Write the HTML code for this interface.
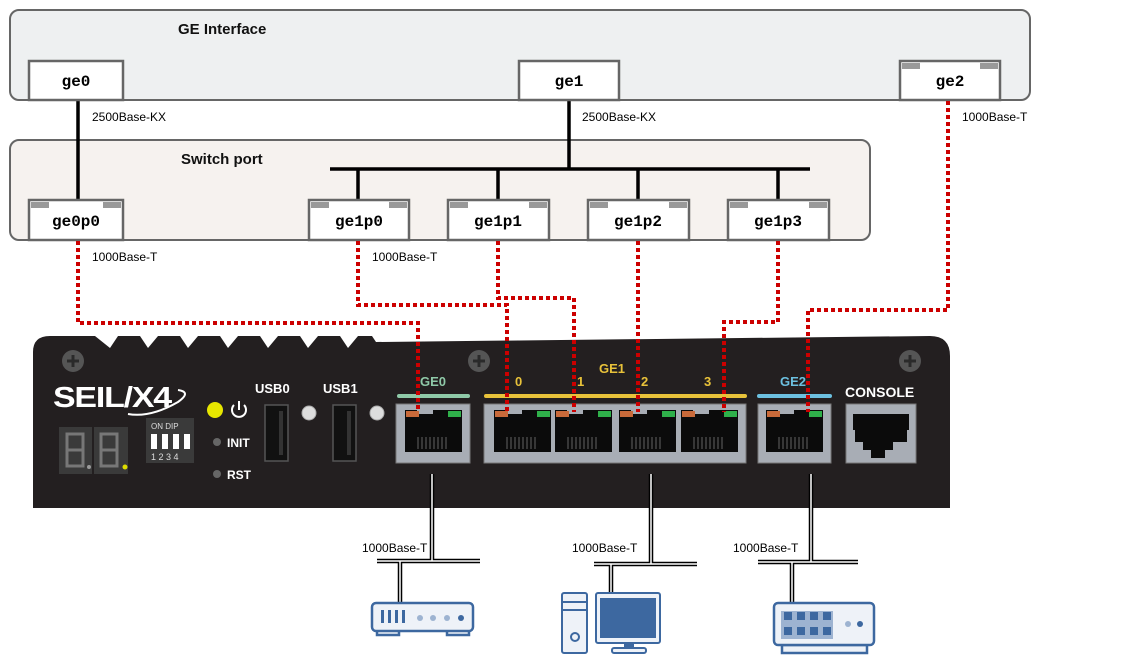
<!DOCTYPE html>
<html><head><meta charset="utf-8"><style>
html,body{margin:0;padding:0;background:#fff}
svg{display:block}
.mono{font-family:"Liberation Mono",monospace;font-weight:bold;font-size:16px}
.s{font-family:"Liberation Sans",sans-serif}
</style></head><body>
<svg width="1128" height="670" viewBox="0 0 1128 670" xmlns="http://www.w3.org/2000/svg">
<rect x="10" y="10" width="1020" height="90" rx="9" fill="#eef0f1" stroke="#666" stroke-width="2"/>
<text x="178" y="34" class="s" font-size="15" font-weight="bold" fill="#111">GE Interface</text>
<rect x="10" y="140" width="860" height="100" rx="9" fill="#f6f2ef" stroke="#666" stroke-width="2"/>
<text x="181" y="164" class="s" font-size="15" font-weight="bold" fill="#111">Switch port</text>

<g stroke="#000" stroke-width="3.5" fill="none">
<line x1="78" y1="100" x2="78" y2="200"/>
<line x1="569" y1="100" x2="569" y2="169"/>
<line x1="330" y1="169" x2="810" y2="169"/>
<line x1="358" y1="169" x2="358" y2="200"/>
<line x1="498" y1="169" x2="498" y2="200"/>
<line x1="638" y1="169" x2="638" y2="200"/>
<line x1="778" y1="169" x2="778" y2="200"/>
</g>

<g stroke="#666" stroke-width="2.5" fill="#fff">
<rect x="29" y="61" width="94" height="39"/>
<rect x="519" y="61" width="100" height="39"/>
<rect x="900" y="61" width="100" height="39"/>
<rect x="29" y="200" width="94" height="40"/>
<rect x="309" y="200" width="100" height="40"/>
<rect x="448" y="200" width="101" height="40"/>
<rect x="588" y="200" width="101" height="40"/>
<rect x="728" y="200" width="101" height="40"/>
</g>
<g fill="#999">
<rect x="902" y="63" width="18" height="6"/><rect x="980" y="63" width="18" height="6"/>
<rect x="31" y="202" width="18" height="6"/><rect x="103" y="202" width="18" height="6"/>
<rect x="311" y="202" width="18" height="6"/><rect x="389" y="202" width="18" height="6"/>
<rect x="450" y="202" width="18" height="6"/><rect x="529" y="202" width="18" height="6"/>
<rect x="590" y="202" width="18" height="6"/><rect x="669" y="202" width="18" height="6"/>
<rect x="730" y="202" width="18" height="6"/><rect x="809" y="202" width="18" height="6"/>
</g>
<g class="mono" fill="#000" text-anchor="middle">
<text x="76" y="86">ge0</text>
<text x="569" y="86">ge1</text>
<text x="950" y="86">ge2</text>
<text x="76" y="226">ge0p0</text>
<text x="359" y="226">ge1p0</text>
<text x="498" y="226">ge1p1</text>
<text x="638" y="226">ge1p2</text>
<text x="778" y="226">ge1p3</text>
</g>
<g class="s" font-size="12" fill="#000">
<text x="92" y="121">2500Base-KX</text>
<text x="582" y="121">2500Base-KX</text>
<text x="962" y="121">1000Base-T</text>
<text x="92" y="261">1000Base-T</text>
<text x="372" y="261">1000Base-T</text>
</g>

<path d="M33 352 Q33 336 50 336 L95 336 L110 348 L118 336 L140 336 L148 348 L158 336 L180 336 L188 348 L198 336 L220 336 L228 348 L238 336 L260 336 L268 348 L278 336 L300 336 L308 348 L318 336 L340 336 L348 348 L358 336 L372 336 L376 342 L930 336 Q950 336 950 356 L950 508 L33 508 Z" fill="#231f20"/>
<g fill="#555"><circle cx="73" cy="361" r="11"/><circle cx="479" cy="361" r="11"/><circle cx="910" cy="361" r="11"/></g>
<g stroke="#2a2a2a" stroke-width="3"><path d="M73 355v12M67 361h12M479 355v12M473 361h12M910 355v12M904 361h12"/></g>

<text x="53" y="407" class="s" font-size="29" font-weight="bold" fill="#fff" letter-spacing="-1" textLength="118" lengthAdjust="spacingAndGlyphs">SEIL/X4</text>
<path d="M128 414 Q150 418 178 402 Q192 392 178 390" fill="none" stroke="#fff" stroke-width="2"/>
<rect x="59" y="427" width="69" height="47" fill="#3a3a3a"/>
<line x1="93" y1="427" x2="93" y2="474" stroke="#231f20" stroke-width="2"/>
<g fill="none" stroke="#777" stroke-width="3">
<rect x="67" y="434" width="16" height="32"/><line x1="67" y1="450" x2="83" y2="450"/>
<rect x="101" y="434" width="16" height="32"/><line x1="101" y1="450" x2="117" y2="450"/>
</g>
<circle cx="89" cy="467" r="2" fill="#999"/><circle cx="125" cy="467" r="2.5" fill="#dd0"/>
<rect x="146" y="418" width="48" height="45" fill="#3a3a3a"/>
<text x="151" y="429" class="s" font-size="8" fill="#ddd">ON  DIP</text>
<g fill="#fff"><rect x="151" y="434" width="6" height="15"/><rect x="162" y="434" width="6" height="15"/><rect x="173" y="434" width="6" height="15"/><rect x="184" y="434" width="6" height="15"/></g>
<text x="151" y="460" class="s" font-size="9" fill="#ddd">1 2 3 4</text>
<circle cx="215" cy="410" r="8" fill="#e6e600"/>
<path d="M234 405 A7 7 0 1 0 244 405" fill="none" stroke="#fff" stroke-width="2"/><line x1="239" y1="401" x2="239" y2="410" stroke="#fff" stroke-width="2"/>
<circle cx="217" cy="442" r="4" fill="#666"/><text x="227" y="447" class="s" font-size="12" font-weight="bold" fill="#fff">INIT</text>
<circle cx="217" cy="474" r="4" fill="#666"/><text x="227" y="479" class="s" font-size="12" font-weight="bold" fill="#fff">RST</text>
<text x="255" y="393" class="s" font-size="13" font-weight="bold" fill="#fff">USB0</text>
<text x="323" y="393" class="s" font-size="13" font-weight="bold" fill="#fff">USB1</text>
<rect x="265" y="405" width="23" height="56" fill="#111" stroke="#555" stroke-width="1.5"/><rect x="279" y="411" width="4" height="44" fill="#333"/>
<rect x="333" y="405" width="23" height="56" fill="#111" stroke="#555" stroke-width="1.5"/><rect x="347" y="411" width="4" height="44" fill="#333"/>
<circle cx="309" cy="413" r="7" fill="#ddd" stroke="#aaa"/><circle cx="377" cy="413" r="7" fill="#ddd" stroke="#aaa"/>

<g class="s" font-size="13" font-weight="bold">
<text x="420" y="386" fill="#8fc9a8">GE0</text>
<text x="599" y="373" fill="#e8c23a">GE1</text>
<text x="515" y="386" fill="#e8c23a">0</text>
<text x="577" y="386" fill="#e8c23a">1</text>
<text x="641" y="386" fill="#e8c23a">2</text>
<text x="704" y="386" fill="#e8c23a">3</text>
<text x="780" y="386" fill="#6cc0e0">GE2</text>
<text x="845" y="397" fill="#fff" font-size="14">CONSOLE</text>
</g>
<g stroke-linecap="round" stroke-width="4">
<line x1="399" y1="396" x2="468" y2="396" stroke="#8fc9a8"/>
<line x1="486" y1="396" x2="745" y2="396" stroke="#e8c23a"/>
<line x1="759" y1="396" x2="830" y2="396" stroke="#6cc0e0"/>
</g>
<g fill="#a8adb5" stroke="#777" stroke-width="1">
<rect x="396" y="404" width="74" height="59"/>
<rect x="484" y="404" width="262" height="59"/>
<rect x="758" y="404" width="73" height="59"/>
<rect x="846" y="404" width="70" height="59"/>
</g>
<g fill="#0b0b0b">
<rect x="405" y="410" width="57" height="42"/>
<rect x="494" y="410" width="57" height="42"/>
<rect x="555" y="410" width="57" height="42"/>
<rect x="619" y="410" width="57" height="42"/>
<rect x="681" y="410" width="57" height="42"/>
<rect x="766" y="410" width="57" height="42"/>
</g>
<g fill="#a8adb5">
<rect x="417" y="410" width="16" height="4"/><rect x="506" y="410" width="16" height="4"/><rect x="567" y="410" width="16" height="4"/><rect x="631" y="410" width="16" height="4"/><rect x="693" y="410" width="16" height="4"/><rect x="778" y="410" width="16" height="4"/>
</g>
<g fill="#c96a3a">
<rect x="406" y="411" width="13" height="6"/><rect x="495" y="411" width="13" height="6"/><rect x="556" y="411" width="13" height="6"/><rect x="620" y="411" width="13" height="6"/><rect x="682" y="411" width="13" height="6"/><rect x="767" y="411" width="13" height="6"/>
</g>
<g fill="#2fb04a">
<rect x="448" y="411" width="13" height="6"/><rect x="537" y="411" width="13" height="6"/><rect x="598" y="411" width="13" height="6"/><rect x="662" y="411" width="13" height="6"/><rect x="724" y="411" width="13" height="6"/><rect x="809" y="411" width="13" height="6"/>
</g>
<g stroke="#555" stroke-width="1.2">
<path d="M418 437v12M422 437v12M426 437v12M430 437v12M434 437v12M438 437v12M442 437v12M446 437v12"/>
<path d="M507 437v12M511 437v12M515 437v12M519 437v12M523 437v12M527 437v12M531 437v12M535 437v12"/>
<path d="M568 437v12M572 437v12M576 437v12M580 437v12M584 437v12M588 437v12M592 437v12M596 437v12"/>
<path d="M632 437v12M636 437v12M640 437v12M644 437v12M648 437v12M652 437v12M656 437v12M660 437v12"/>
<path d="M694 437v12M698 437v12M702 437v12M706 437v12M710 437v12M714 437v12M718 437v12M722 437v12"/>
<path d="M779 437v12M783 437v12M787 437v12M791 437v12M795 437v12M799 437v12M803 437v12M807 437v12"/>
</g>
<path d="M853 414h56v16h-2v12h-14v8h-8v8h-14v-8h-8v-8h-8v-12h-2z" fill="#0b0b0b"/>

<g stroke="#cc0000" stroke-width="4" fill="none" stroke-dasharray="4 3">
<path d="M78 241V323H418V412"/>
<path d="M358 241V305H507V412"/>
<path d="M498 241V298H574V412"/>
<path d="M638 241V412"/>
<path d="M778 241V322H724V412"/>
<path d="M948 101V310H808V412"/>
</g>

<g fill="none" stroke="#000" stroke-width="4.5">
<path d="M432 474V561M377 561H480M400 561V603"/>
<path d="M651 474V564M594 564H697M611 564V592"/>
<path d="M811 474V562M758 562H858M792 562V603"/>
</g>
<g fill="none" stroke="#fff" stroke-width="1.5">
<path d="M432 474V561M377 561H480M400 561V603"/>
<path d="M651 474V564M594 564H697M611 564V592"/>
<path d="M811 474V562M758 562H858M792 562V603"/>
</g>
<g class="s" font-size="12" fill="#000">
<text x="362" y="552">1000Base-T</text>
<text x="572" y="552">1000Base-T</text>
<text x="733" y="552">1000Base-T</text>
</g>

<g stroke="#3d68a0" stroke-width="2.5" fill="#eef2f8">
<rect x="377" y="626" width="22" height="9"/><rect x="447" y="626" width="22" height="9"/>
<rect x="372" y="603" width="101" height="28" rx="4"/>
</g>
<g fill="#3d68a0"><rect x="381" y="610" width="3" height="13"/><rect x="388" y="610" width="3" height="13"/><rect x="395" y="610" width="3" height="13"/><rect x="402" y="610" width="3" height="13"/><circle cx="461" cy="618" r="3"/></g>
<g fill="#9db3d1"><circle cx="420" cy="618" r="3"/><circle cx="433" cy="618" r="3"/><circle cx="447" cy="618" r="3"/></g>
<g stroke="#3d68a0" stroke-width="2" fill="#eef2f8">
<rect x="562" y="593" width="25" height="60" rx="2"/>
<rect x="596" y="593" width="64" height="50" rx="2"/>
<rect x="612" y="648" width="34" height="5" rx="2"/>
</g>
<line x1="562" y1="602" x2="587" y2="602" stroke="#3d68a0" stroke-width="2"/><line x1="562" y1="610" x2="587" y2="610" stroke="#3d68a0" stroke-width="2"/>
<circle cx="575" cy="637" r="4" fill="none" stroke="#3d68a0" stroke-width="2"/>
<rect x="600" y="598" width="56" height="40" fill="#3d68a0"/>
<rect x="624" y="643" width="10" height="5" fill="#3d68a0"/>
<g stroke="#3d68a0" stroke-width="2.5" fill="#eef2f8">
<rect x="782" y="645" width="85" height="8"/>
<rect x="774" y="603" width="100" height="42" rx="4"/>
</g>
<g fill="#9db3d1"><rect x="781" y="611" width="52" height="28"/><circle cx="848" cy="624" r="3"/></g>
<g fill="#3d68a0"><rect x="784" y="612" width="8" height="8"/><rect x="797" y="612" width="8" height="8"/><rect x="810" y="612" width="8" height="8"/><rect x="823" y="612" width="8" height="8"/><rect x="784" y="627" width="8" height="8"/><rect x="797" y="627" width="8" height="8"/><rect x="810" y="627" width="8" height="8"/><rect x="823" y="627" width="8" height="8"/><circle cx="860" cy="624" r="3"/></g>
</svg>
</body></html>
